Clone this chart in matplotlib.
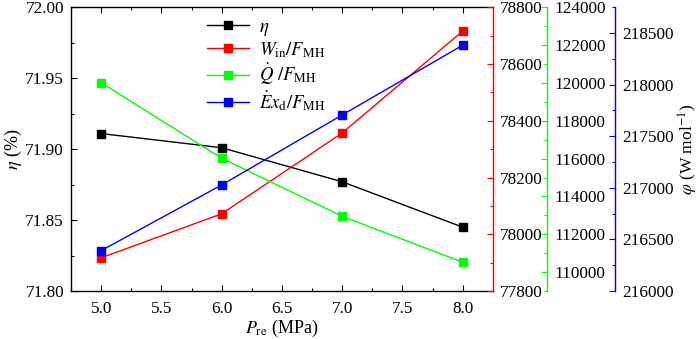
import matplotlib
matplotlib.use("Agg")
import matplotlib.pyplot as plt
from matplotlib.ticker import MultipleLocator

plt.rcParams['font.family'] = ['Liberation Serif', 'DejaVu Serif']
plt.rcParams['mathtext.fontset'] = 'stix'
plt.rcParams['font.size'] = 12.4

# data
p_re = [5.0, 6.0, 7.0, 8.0]
eta = [71.911, 71.901, 71.877, 71.845]
w_in = [77917, 78072, 78357, 78716]
q_dot = [120010, 116020, 112950, 110520]
ex_d = [216391, 217028, 217706, 218382]

fig = plt.figure(figsize=(6.99, 3.39), dpi=100)
fig.subplots_adjust(left=0.1016, right=0.705, top=0.9785, bottom=0.1416)
ax = fig.add_subplot(111)
ax2 = ax.twinx()
ax3 = ax.twinx()
ax4 = ax.twinx()
ax3.spines['right'].set_position(('axes', 1.129))
ax4.spines['right'].set_position(('axes', 1.290))

ms = 5.8
lw = 1.0
l1, = ax.plot(p_re, eta, '-s', color='black', ms=ms, lw=lw, label=r'$\eta$')
l2, = ax2.plot(p_re, w_in, '-s', color='red', ms=ms, lw=lw, label=r'$W_{\rm in}/F_{\rm MH}$')
l3, = ax3.plot(p_re, q_dot, '-s', color='#00ff00', ms=ms, lw=lw, label=r'$\dot{Q}\ /F_{\rm MH}$')
l4, = ax4.plot(p_re, ex_d, '-s', color='blue', ms=ms, lw=lw, label=r'$\dot{E}x_{\rm d}/F_{\rm MH}$')

ax.set_xlim(4.75, 8.25)
ax.set_ylim(71.80, 72.00)
ax2.set_ylim(77800, 78800)
ax3.set_ylim(109000, 124000)
ax4.set_ylim(216000, 218750)

ax.xaxis.set_major_locator(MultipleLocator(0.5))
ax.xaxis.set_minor_locator(MultipleLocator(0.25))
ax.yaxis.set_major_locator(MultipleLocator(0.05))
ax.yaxis.set_minor_locator(MultipleLocator(0.025))
ax2.yaxis.set_major_locator(MultipleLocator(200))
ax2.yaxis.set_minor_locator(MultipleLocator(100))
ax3.yaxis.set_major_locator(MultipleLocator(2000))
ax3.yaxis.set_minor_locator(MultipleLocator(1000))
ax4.yaxis.set_major_locator(MultipleLocator(500))
ax4.yaxis.set_minor_locator(MultipleLocator(250))

ax.xaxis.set_major_formatter(matplotlib.ticker.FormatStrFormatter('%.1f'))
ax.yaxis.set_major_formatter(matplotlib.ticker.FormatStrFormatter('%.2f'))

ax.tick_params(which='both', direction='in', top=True, right=False, pad=5)
ax.tick_params(axis='x', which='major', pad=7)
ax.tick_params(which='major', length=4.3, width=0.8)
ax.tick_params(which='minor', length=2.2, width=0.8)

for a, c in [(ax2, 'red'), (ax3, '#00ff00'), (ax4, 'blue')]:
    a.tick_params(axis='y', which='both', direction='in', color=c, pad=5)
    a.tick_params(axis='y', which='major', length=4.3, width=0.8)
    a.tick_params(axis='y', which='minor', length=2.2, width=0.8)
    a.spines['right'].set_color(c)
    a.spines['right'].set_linewidth(1.0)
    for s in ['left', 'top', 'bottom']:
        a.spines[s].set_visible(False)

for s in ax.spines.values():
    s.set_linewidth(1.0)
ax.spines['right'].set_visible(False)

ax.set_xlabel(r'$P_{\rm re}$ (MPa)', labelpad=1, fontsize=13)
ax.set_ylabel(r'$\eta$ (%)', labelpad=1, fontsize=13)
ax4.set_ylabel(r'$\varphi$ (W mol$^{-1}$)', labelpad=2, fontsize=12.6)

ax.legend(handles=[l1, l2, l3, l4], loc='upper left', bbox_to_anchor=(0.295, 1.0),
          frameon=False, handlelength=2.25, labelspacing=0.12, fontsize=13.5,
          borderaxespad=0.2, handletextpad=0.55)

fig.savefig('out.png', dpi=100)
